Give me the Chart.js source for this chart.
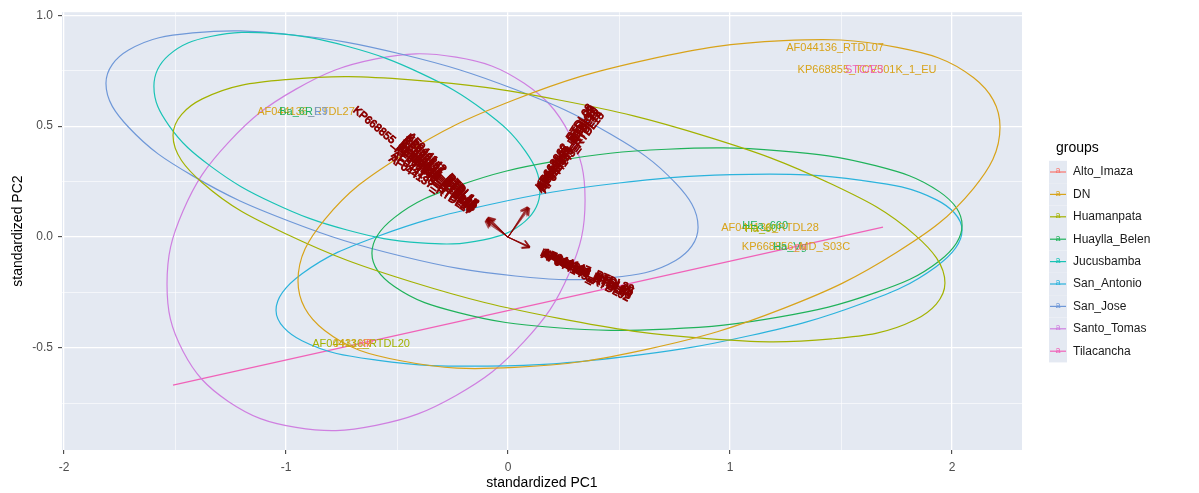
<!DOCTYPE html>
<html>
<head>
<meta charset="utf-8">
<script src="https://cdn.jsdelivr.net/npm/chart.js@4.4.1/dist/chart.umd.min.js"></script>
<style>
  html, body { margin: 0; padding: 0; background: #fff; }
  #wrap { width: 1199px; height: 493px; }
</style>
</head>
<body>
<div id="wrap"><canvas id="biplot" width="1199" height="493"></canvas></div>
<script>
// groups (legend order) and their colours
const groups = ['Alto_Imaza', 'DN', 'Huamanpata', 'Huaylla_Belen', 'Jucusbamba',
                'San_Antonio', 'San_Jose', 'Santo_Tomas', 'Tilacancha'];
const groupColors = ['#f8766d', '#d8a31a', '#a3b200', '#1fb25a', '#19c3b5',
                     '#2bb3dc', '#6f98d8', '#cf7fe0', '#f062b8'];

// grid breaks (major + minor)
const xBreaks = [-2, -1.5, -1, -0.5, 0, 0.5, 1, 1.5, 2];
const yBreaks = [-0.75, -0.5, -0.25, 0, 0.25, 0.5, 0.75, 1.0];

// ellipse outlines [PC1, PC2]
const dnEllipse = [[2.216,0.496],[2.096,0.719],[1.753,0.855],[1.241,0.885],[0.635,0.801],[0.029,0.619],[-0.483,0.365],[-0.826,0.079],
  [-0.946,-0.198],[-0.826,-0.421],[-0.483,-0.557],[0.029,-0.587],[0.635,-0.503],[1.241,-0.321],[1.753,-0.067],[2.096,0.219]];
const huamanpataEllipse = [[1.968,-0.207],[1.836,0.007],[1.459,0.238],[0.896,0.453],[0.230,0.618],[-0.436,0.709],[-0.999,0.710],[-1.377,0.623],
  [-1.509,0.459],[-1.377,0.245],[-0.999,0.014],[-0.436,-0.201],[0.230,-0.366],[0.896,-0.457],[1.459,-0.458],[1.836,-0.371]];
const huayllaBelenEllipse = [[2.045,0.054],[1.944,0.204],[1.655,0.322],[1.225,0.389],[0.716,0.396],[0.207,0.341],[-0.223,0.232],[-0.512,0.088],
  [-0.613,-0.072],[-0.512,-0.222],[-0.223,-0.340],[0.207,-0.407],[0.716,-0.414],[1.225,-0.359],[1.655,-0.250],[1.944,-0.106]];
const jucusbambaEllipse = [[0.144,0.212],[0.078,0.388],[-0.110,0.572],[-0.392,0.738],[-0.725,0.860],[-1.058,0.918],[-1.340,0.904],[-1.528,0.820],
  [-1.595,0.680],[-1.528,0.504],[-1.340,0.320],[-1.058,0.154],[-0.725,0.032],[-0.392,-0.026],[-0.110,-0.012],[0.078,0.072]];
const sanAntonioEllipse = [[2.045,0.031],[1.928,0.169],[1.592,0.256],[1.092,0.283],[0.500,0.244],[-0.092,0.145],[-0.592,0.002],[-0.928,-0.165],
  [-1.045,-0.329],[-0.928,-0.467],[-0.592,-0.554],[-0.092,-0.581],[0.500,-0.542],[1.092,-0.443],[1.592,-0.300],[1.928,-0.133]];
const sanJoseEllipse = [[0.856,0.045],[0.755,0.243],[0.465,0.462],[0.033,0.665],[-0.478,0.824],[-0.988,0.913],[-1.420,0.920],[-1.709,0.843],
  [-1.811,0.693],[-1.709,0.495],[-1.420,0.276],[-0.988,0.073],[-0.478,-0.086],[0.033,-0.175],[0.465,-0.182],[0.755,-0.105]];
const santoTomasEllipse = [[0.347,0.167],[0.275,0.468],[0.071,0.694],[-0.234,0.811],[-0.595,0.803],[-0.955,0.667],[-1.260,0.426],[-1.464,0.118],
  [-1.536,-0.212],[-1.464,-0.514],[-1.260,-0.740],[-0.955,-0.857],[-0.595,-0.848],[-0.234,-0.713],[0.071,-0.472],[0.275,-0.164]];
const tilacanchaEllipse = [[-1.509,-0.667],[1.689,0.045]];

// sample labels (group coloured)
const sampleNames  = ['AF044136_RTDL07', 'KP668855_TCV501K_1_EU', 'STC/E3', 'AF044136_RTDL28', 'HEa_660', 'Ha_60',
                      'KP668856_MD_S03C', 'Ha_Vg', 'pa', 'AF044136_RTDL27', 'Ba_6R', '_E9',
                      'AF044136_RTDL20', '0431_R', 'KP'];
const sampleGroups = ['DN', 'DN', 'Tilacancha', 'DN', 'Huaylla_Belen', 'Huamanpata',
                      'DN', 'Huaylla_Belen', 'Alto_Imaza', 'DN', 'Huaylla_Belen', 'San_Jose',
                      'Huamanpata', 'DN', 'Alto_Imaza'];
const samplePC1 = [1.473, 1.617, 1.604, 1.180, 1.158, 1.140, 1.297, 1.270, 1.318, -0.910, -0.955, -0.856, -0.662, -0.703, -0.640];
const samplePC2 = [0.851, 0.752, 0.752, 0.041, 0.050, 0.038, -0.045, -0.045, -0.045, 0.563, 0.563, 0.563, -0.482, -0.482, -0.482];

// variable loadings (arrows + dark red names)
const varNames = ['KP668855_AEJ50801_RTDL25', 'AF044137_RTDL27', 'AF044138_RTDL26', 'KP668840_RTDL22', 'AF044139_RTDL24',
                  'KP668846_RTDL21', 'AF044140_RTDL23', 'KP668851_RTDL19', 'AF044141_RTDL17', 'KP668857_RTDL15',
                  'AF044142_RTDL14', 'KP668859_RTDL13',
                  'AF044143_RTDL18', 'KP668860_RTDL12', 'AF044144_RTDL11', 'KP668861_RTDL10', 'AF044145_RTDL09',
                  'KP668862_RTDL08', 'AF044146_RTDL06',
                  'AF044147_RTDL20', 'KP668863_RTDL05', 'AF044148_RTDL04', 'KP668864_RTDL03', 'AF044149_RTDL02', 'KP668865_RTDL01'];
const varPC1 = [-0.097, -0.104, -0.102, -0.099, -0.098, -0.095, -0.094, -0.092, -0.091, -0.089, -0.088, -0.093,
                0.098, 0.095, 0.093, 0.091, 0.088, 0.086, 0.087,
                0.099, 0.099, 0.098, 0.097, 0.096, 0.093];
const varPC2 = [0.081, 0.070, 0.074, 0.078, 0.079, 0.083, 0.084, 0.086, 0.088, 0.089, 0.091, 0.078,
                0.129, 0.131, 0.133, 0.134, 0.136, 0.137, 0.129,
                -0.042, -0.044, -0.046, -0.047, -0.049, -0.043];

const FONT = '"Liberation Sans", Arial, sans-serif';
const PANEL = '#e4e9f2';

const ellipseByGroup = {
  DN: dnEllipse, Huamanpata: huamanpataEllipse, Huaylla_Belen: huayllaBelenEllipse,
  Jucusbamba: jucusbambaEllipse, San_Antonio: sanAntonioEllipse, San_Jose: sanJoseEllipse,
  Santo_Tomas: santoTomasEllipse, Tilacancha: tilacanchaEllipse
};

function colorOf(g) { return groupColors[groups.indexOf(g)]; }
function xMajor(v) { return Math.abs(v - Math.round(v)) < 1e-6; }
function yMajor(v) { return Math.abs(v * 2 - Math.round(v * 2)) < 1e-6; }

// closed outlines: wrap one point on each side so the spline is smooth at the seam,
// then hide the two helper segments
function buildDatasets() {
  return Object.keys(ellipseByGroup).map(g => {
    const src = ellipseByGroup[g];
    const color = colorOf(g);
    if (src.length <= 2) {
      return {
        label: g, data: src.map(p => ({ x: p[0], y: p[1] })), showLine: true,
        borderColor: color, borderWidth: 1.2, pointRadius: 0, fill: false
      };
    }
    const ring = [src[src.length - 1], ...src, src[0], src[1]];
    const last = ring.length - 1;
    return {
      label: g,
      data: ring.map(p => ({ x: p[0], y: p[1] })),
      showLine: true,
      borderColor: color,
      borderWidth: 1.2,
      pointRadius: 0,
      tension: 0.4,
      fill: false,
      segment: {
        borderColor: c => (c.p0DataIndex === 0 || c.p1DataIndex === last) ? 'rgba(0,0,0,0)' : color
      }
    };
  });
}

const panelBackground = {
  id: 'panelBackground',
  beforeDraw(chart) {
    const { ctx, chartArea: a } = chart;
    ctx.save();
    ctx.fillStyle = PANEL;
    ctx.fillRect(a.left, a.top, a.right - a.left, a.bottom - a.top);
    ctx.restore();
  }
};

const biplotLabels = {
  id: 'biplotLabels',
  afterDatasetsDraw(chart) {
    const { ctx, chartArea: a } = chart;
    const xs = chart.scales.x, ys = chart.scales.y;
    ctx.save();
    ctx.beginPath();
    ctx.rect(a.left, a.top, a.right - a.left, a.bottom - a.top);
    ctx.clip();
    const ox = xs.getPixelForValue(0), oy = ys.getPixelForValue(0);

    // arrows
    ctx.strokeStyle = 'rgba(139,0,0,0.7)';
    ctx.lineWidth = 0.8;
    varNames.forEach((n, i) => {
      const px = xs.getPixelForValue(varPC1[i]), py = ys.getPixelForValue(varPC2[i]);
      const ang = Math.atan2(py - oy, px - ox);
      const h = 8;
      ctx.beginPath();
      ctx.moveTo(ox, oy);
      ctx.lineTo(px, py);
      ctx.moveTo(px - h * Math.cos(ang - 0.52), py - h * Math.sin(ang - 0.52));
      ctx.lineTo(px, py);
      ctx.lineTo(px - h * Math.cos(ang + 0.52), py - h * Math.sin(ang + 0.52));
      ctx.stroke();
    });

    // variable names along the arrows
    ctx.fillStyle = '#8b0000';
    ctx.strokeStyle = '#8b0000';
    ctx.lineWidth = 0.9;
    ctx.font = '11px ' + FONT;
    ctx.textBaseline = 'middle';
    varNames.forEach((n, i) => {
      const px = xs.getPixelForValue(varPC1[i]), py = ys.getPixelForValue(varPC2[i]);
      const ax = ox + (px - ox) * 1.6, ay = oy + (py - oy) * 1.6;
      const ang = Math.atan2(py - oy, px - ox);
      ctx.save();
      ctx.translate(ax, ay);
      if (px >= ox) { ctx.rotate(ang); ctx.textAlign = 'left'; }
      else { ctx.rotate(ang + Math.PI); ctx.textAlign = 'right'; }
      ctx.strokeText(n, 0, 0);
      ctx.fillText(n, 0, 0);
      ctx.restore();
    });

    // sample names
    ctx.textAlign = 'center';
    sampleNames.forEach((n, i) => {
      ctx.fillStyle = colorOf(sampleGroups[i]);
      ctx.fillText(n, xs.getPixelForValue(samplePC1[i]), ys.getPixelForValue(samplePC2[i]));
    });
    ctx.restore();
  }
};

const groupLegend = {
  id: 'groupLegend',
  afterDraw(chart) {
    const ctx = chart.ctx;
    ctx.save();
    ctx.textBaseline = 'middle';
    ctx.textAlign = 'left';
    ctx.fillStyle = '#000';
    ctx.font = '14px ' + FONT;
    ctx.fillText('groups', 1056, 148);
    groups.forEach((g, i) => {
      const cy = 172 + i * 22.4;
      ctx.fillStyle = PANEL;
      ctx.fillRect(1049, cy - 11.2, 18, 22.4);
      ctx.strokeStyle = groupColors[i];
      ctx.lineWidth = 1.2;
      ctx.beginPath();
      ctx.moveTo(1050, cy);
      ctx.lineTo(1066, cy);
      ctx.stroke();
      ctx.fillStyle = groupColors[i];
      ctx.font = '9px ' + FONT;
      ctx.textAlign = 'center';
      ctx.fillText('a', 1058, cy - 1);
      ctx.textAlign = 'left';
      ctx.fillStyle = '#1a1a1a';
      ctx.font = '12px ' + FONT;
      ctx.fillText(g, 1073, cy);
    });
    ctx.restore();
  }
};

new Chart(document.getElementById('biplot'), {
  type: 'scatter',
  data: { datasets: buildDatasets() },
  options: {
    responsive: false,
    animation: false,
    devicePixelRatio: 1,
    layout: { padding: { left: 0, right: 177, top: 12, bottom: 0 } },
    plugins: { legend: { display: false }, tooltip: { enabled: false } },
    scales: {
      x: {
        type: 'linear',
        min: -2.009,
        max: 2.315,
        afterBuildTicks: s => { s.ticks = xBreaks.map(v => ({ value: v })); },
        afterFit: s => { s.height = 43; },
        ticks: {
          autoSkip: false, maxRotation: 0, padding: 6, color: '#4d4d4d',
          font: { family: FONT, size: 12 },
          callback: v => xMajor(v) ? String(v) : ''
        },
        grid: {
          color: '#ffffff',
          lineWidth: c => (c.tick && xMajor(c.tick.value)) ? 1.3 : 0.6,
          drawTicks: true,
          tickLength: 4,
          tickWidth: 1,
          tickColor: c => (c.tick && xMajor(c.tick.value)) ? '#333333' : 'rgba(0,0,0,0)'
        },
        border: { display: false },
        title: { display: true, text: 'standardized PC1', color: '#000', font: { family: FONT, size: 14 }, padding: { top: 0, bottom: 1 } }
      },
      y: {
        type: 'linear',
        min: -0.959,
        max: 1.0135,
        afterBuildTicks: s => { s.ticks = yBreaks.map(v => ({ value: v })); },
        afterFit: s => { s.width = 62; },
        ticks: {
          autoSkip: false, padding: 5, color: '#4d4d4d',
          font: { family: FONT, size: 12 },
          callback: v => yMajor(v) ? v.toFixed(1) : ''
        },
        grid: {
          color: '#ffffff',
          lineWidth: c => (c.tick && yMajor(c.tick.value)) ? 1.3 : 0.6,
          drawTicks: true,
          tickLength: 4,
          tickWidth: 1,
          tickColor: c => (c.tick && yMajor(c.tick.value)) ? '#333333' : 'rgba(0,0,0,0)'
        },
        border: { display: false },
        title: { display: true, text: 'standardized PC2', color: '#000', font: { family: FONT, size: 14 }, padding: { top: 10, bottom: 0 } }
      }
    }
  },
  plugins: [panelBackground, biplotLabels, groupLegend]
});
</script>
</body>
</html>
